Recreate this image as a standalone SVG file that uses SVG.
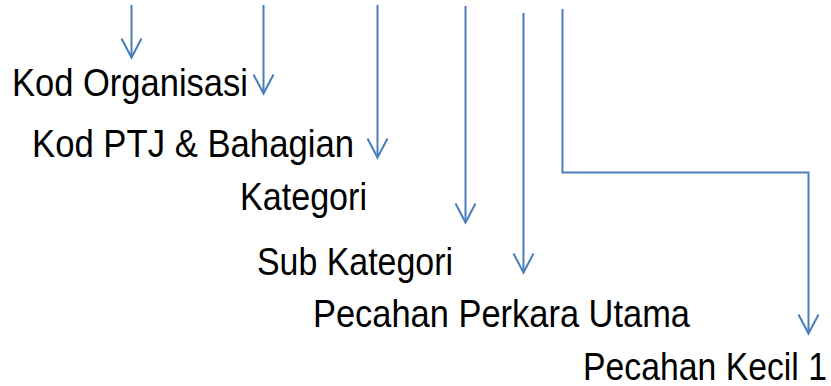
<svg xmlns="http://www.w3.org/2000/svg" width="831" height="386" viewBox="0 0 831 386">
<style>
.t{font-family:"Liberation Sans",Arial,sans-serif;font-size:39px;fill:#000}
.c{fill:none;stroke:#4A7EBB;stroke-width:2}
</style>
<defs>
<marker id="ah" markerUnits="userSpaceOnUse" viewBox="-25 -15 30 30" refX="0" refY="0" markerWidth="30" markerHeight="30" orient="auto" overflow="visible">
<polyline points="-19,-10 0,0 -19,10" fill="none" stroke="#4A7EBB" stroke-width="2"/>
</marker>
</defs>
<rect width="831" height="386" fill="#fff"/>
<g id="connectors">
<path class="c" d="M131.5,5 V57.5" marker-end="url(#ah)"/>
<path class="c" d="M263.5,5 V93.5" marker-end="url(#ah)"/>
<path class="c" d="M377.5,5 V157.5" marker-end="url(#ah)"/>
<path class="c" d="M465.5,6 V222.5" marker-end="url(#ah)"/>
<path class="c" d="M523.5,13 V272.5" marker-end="url(#ah)"/>
<path class="c" d="M562.5,9 V172.5 H808.5 V333.5" marker-end="url(#ah)"/>
</g>
<g id="n1"><text class="t" x="12" y="96" textLength="236" lengthAdjust="spacingAndGlyphs">Kod Organisasi</text></g>
<g id="n2"><text class="t" x="32" y="157" textLength="322" lengthAdjust="spacingAndGlyphs">Kod PTJ &amp; Bahagian</text></g>
<g id="n3"><text class="t" x="240" y="210" textLength="127" lengthAdjust="spacingAndGlyphs">Kategori</text></g>
<g id="n4"><text class="t" x="257" y="275" textLength="196" lengthAdjust="spacingAndGlyphs">Sub Kategori</text></g>
<g id="n5"><text class="t" x="313" y="327" textLength="377" lengthAdjust="spacingAndGlyphs">Pecahan Perkara Utama</text></g>
<g id="n6"><text class="t" x="583" y="380" textLength="244" lengthAdjust="spacingAndGlyphs">Pecahan Kecil 1</text></g>
</svg>
